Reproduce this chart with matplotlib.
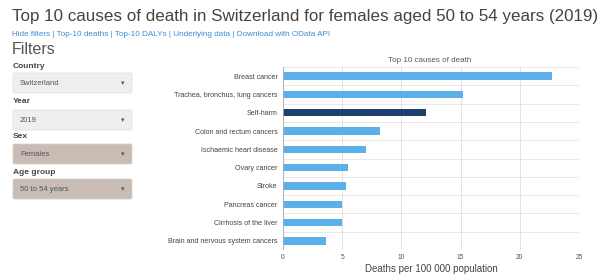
import matplotlib.pyplot as plt
from matplotlib.patches import FancyBboxPatch

plt.rcParams['font.family'] = ['Liberation Sans', 'DejaVu Sans']

causes = [
    "Breast cancer",
    "Trachea, bronchus, lung cancers",
    "Self-harm",
    "Colon and rectum cancers",
    "Ischaemic heart disease",
    "Ovary cancer",
    "Stroke",
    "Pancreas cancer",
    "Cirrhosis of the liver",
    "Brain and nervous system cancers",
]
deaths = [22.7, 15.2, 12.1, 8.2, 7.0, 5.5, 5.3, 5.0, 5.0, 3.65]
highlight = "Self-harm"
x_ticks = [0, 5, 10, 15, 20, 25]

filters = [
    ("Country", "Switzerland", False),
    ("Year", "2019", False),
    ("Sex", "Females", True),
    ("Age group", "50 to 54 years", True),
]

W, H = 604, 277
fig = plt.figure(figsize=(W / 100, H / 100), dpi=100)


def px(x, y):
    return x / W, 1 - y / H


# header
fig.text(*px(12, 17), "Top 10 causes of death in Switzerland for females aged 50 to 54 years (2019)",
         fontsize=12.25, color="#444444", va="center", ha="left")
fig.text(*px(12, 34), "Hide filters | Top-10 deaths | Top-10 DALYs | Underlying data | Download with OData API",
         fontsize=5.9, color="#3a8fd8", va="center", ha="left")
fig.text(*px(12, 50), "Filters", fontsize=11.5, color="#555555", va="center", ha="left")

# filter boxes
label_y = [67, 101, 137, 172]
box_top = [73, 110, 144, 179]
for (lab, val, active), ly, bt in zip(filters, label_y, box_top):
    fig.text(*px(13, ly), lab, fontsize=6.0, color="#444444", weight="bold", va="center", ha="left")
    bx, by = px(13, bt + 20)
    box = FancyBboxPatch((bx, by), 119 / W, 20 / H, boxstyle="round,pad=0,rounding_size=0.004",
                         transform=fig.transFigure,
                         facecolor="#c8bcb4" if active else "#eeeeee",
                         edgecolor="#d8d0cc" if active else "#e2e2e2", linewidth=0.6)
    fig.add_artist(box)
    fig.text(*px(20, bt + 10.5), val, fontsize=5.5, color="#555555", va="center", ha="left")
    fig.text(*px(123, bt + 11), "\u25be", fontsize=5, color="#555555", va="center", ha="center")

# chart
ax = fig.add_axes([283 / W, (H - 250) / H, 296 / W, (250 - 67) / H])
ypos = list(range(len(causes)))
colors = ["#1f3f6e" if c == highlight else "#5cb0ea" for c in causes]
ax.barh(ypos, deaths, height=0.4, color=colors, zorder=3)
ax.set_ylim(len(causes) - 0.5, -0.5)
ax.set_xlim(0, 25)
ax.set_xticks(x_ticks)
ax.set_xticklabels([str(t) for t in x_ticks], fontsize=4.8, color="#555555")
ax.set_yticks(ypos)
ax.set_yticklabels(causes, fontsize=5.1, color="#444444")
ax.tick_params(axis="both", length=0, pad=4)
ax.tick_params(axis="x", pad=3)
for b in range(len(causes) + 1):
    ax.axhline(b - 0.5, color="#e4e4e4", linewidth=0.6, zorder=1)
for t in x_ticks:
    ax.axvline(t, color="#dddddd", linewidth=0.6, zorder=1)
for s in ax.spines.values():
    s.set_visible(False)
ax.axvline(0, color="#aaaaaa", linewidth=0.6, zorder=4)
ax.axhline(len(causes) - 0.5, color="#aaaaaa", linewidth=0.6, zorder=4)
ax.set_xlabel("Deaths per 100 000 population", fontsize=7.0, color="#444444", labelpad=2)
fig.text(*px(430, 60), "Top 10 causes of death", fontsize=5.8, color="#555555", va="center", ha="center")

fig.savefig("out.png", dpi=100, facecolor="white")
